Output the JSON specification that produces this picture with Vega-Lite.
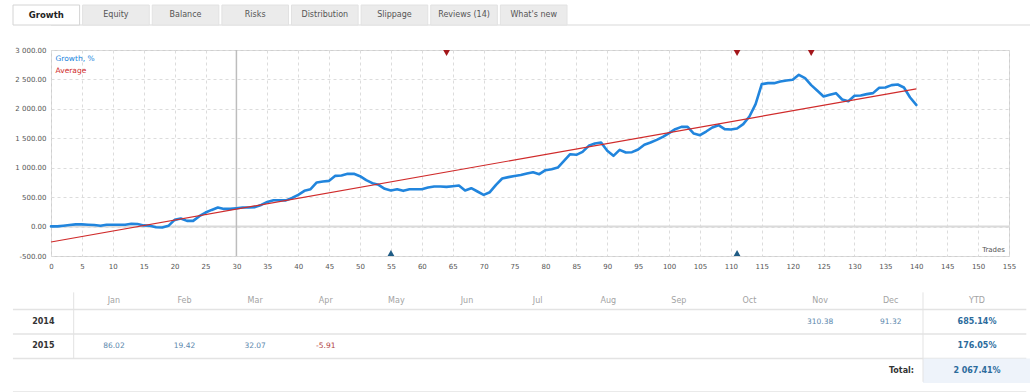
{
  "$schema": "https://vega.github.io/schema/vega-lite/v6.json",
  "padding": 0,
  "autosize": {"type": "pad"},
  "background": "white",
  "spacing": 15,
  "config": {
    "font": "DejaVu Sans",
    "view": {"stroke": null},
    "locale": {"number": {"decimal": ".", "thousands": " ", "grouping": [3], "currency": ["", ""], "minus": "-"}}
  },
  "datasets": {
    "tabs": [{"tab": "Growth"}, {"tab": "Equity"}, {"tab": "Balance"}, {"tab": "Risks"}, {"tab": "Distribution"}, {"tab": "Slippage"}, {"tab": "Reviews (14)"}, {"tab": "What's new"}],
    "growth": [
      {"t": 0, "v": 3}, {"t": 1, "v": 3}, {"t": 2, "v": 15}, {"t": 3, "v": 26}, {"t": 4, "v": 37}, {"t": 5, "v": 37}, {"t": 6, "v": 32}, {"t": 7, "v": 26}, {"t": 8, "v": 15}, {"t": 9, "v": 32},
      {"t": 10, "v": 32}, {"t": 11, "v": 32}, {"t": 12, "v": 32}, {"t": 13, "v": 49}, {"t": 14, "v": 44}, {"t": 15, "v": 20}, {"t": 16, "v": 15}, {"t": 17, "v": -12}, {"t": 18, "v": -17}, {"t": 19, "v": 12},
      {"t": 20, "v": 114}, {"t": 21, "v": 136}, {"t": 22, "v": 97}, {"t": 23, "v": 97}, {"t": 24, "v": 176}, {"t": 25, "v": 238}, {"t": 26, "v": 283}, {"t": 27, "v": 323}, {"t": 28, "v": 300}, {"t": 29, "v": 300},
      {"t": 30, "v": 312}, {"t": 31, "v": 323}, {"t": 32, "v": 323}, {"t": 33, "v": 330}, {"t": 34, "v": 368}, {"t": 35, "v": 419}, {"t": 36, "v": 448}, {"t": 37, "v": 448}, {"t": 38, "v": 445}, {"t": 39, "v": 485},
      {"t": 40, "v": 539}, {"t": 41, "v": 607}, {"t": 42, "v": 635}, {"t": 43, "v": 749}, {"t": 44, "v": 766}, {"t": 45, "v": 777}, {"t": 46, "v": 862}, {"t": 47, "v": 868}, {"t": 48, "v": 896}, {"t": 49, "v": 896},
      {"t": 50, "v": 856}, {"t": 51, "v": 788}, {"t": 52, "v": 737}, {"t": 53, "v": 709}, {"t": 54, "v": 641}, {"t": 55, "v": 613}, {"t": 56, "v": 635}, {"t": 57, "v": 607}, {"t": 58, "v": 635}, {"t": 59, "v": 635},
      {"t": 60, "v": 635}, {"t": 61, "v": 664}, {"t": 62, "v": 681}, {"t": 63, "v": 681}, {"t": 64, "v": 675}, {"t": 65, "v": 686}, {"t": 66, "v": 698}, {"t": 67, "v": 613}, {"t": 68, "v": 652}, {"t": 69, "v": 596},
      {"t": 70, "v": 539}, {"t": 71, "v": 584}, {"t": 72, "v": 709}, {"t": 73, "v": 817}, {"t": 74, "v": 840}, {"t": 75, "v": 860}, {"t": 76, "v": 875}, {"t": 77, "v": 900}, {"t": 78, "v": 924}, {"t": 79, "v": 890},
      {"t": 80, "v": 958}, {"t": 81, "v": 975}, {"t": 82, "v": 1003}, {"t": 83, "v": 1117}, {"t": 84, "v": 1230}, {"t": 85, "v": 1219}, {"t": 86, "v": 1270}, {"t": 87, "v": 1372}, {"t": 88, "v": 1411}, {"t": 89, "v": 1428},
      {"t": 90, "v": 1287}, {"t": 91, "v": 1202}, {"t": 92, "v": 1304}, {"t": 93, "v": 1258}, {"t": 94, "v": 1264}, {"t": 95, "v": 1309}, {"t": 96, "v": 1389}, {"t": 97, "v": 1428}, {"t": 98, "v": 1473}, {"t": 99, "v": 1524},
      {"t": 100, "v": 1587}, {"t": 101, "v": 1655}, {"t": 102, "v": 1694}, {"t": 103, "v": 1694}, {"t": 104, "v": 1581}, {"t": 105, "v": 1553}, {"t": 106, "v": 1615}, {"t": 107, "v": 1683}, {"t": 108, "v": 1723}, {"t": 109, "v": 1655},
      {"t": 110, "v": 1649}, {"t": 111, "v": 1666}, {"t": 112, "v": 1740}, {"t": 113, "v": 1870}, {"t": 114, "v": 2080}, {"t": 115, "v": 2420}, {"t": 116, "v": 2437}, {"t": 117, "v": 2437}, {"t": 118, "v": 2465}, {"t": 119, "v": 2482},
      {"t": 120, "v": 2494}, {"t": 121, "v": 2579}, {"t": 122, "v": 2522}, {"t": 123, "v": 2403}, {"t": 124, "v": 2307}, {"t": 125, "v": 2210}, {"t": 126, "v": 2239}, {"t": 127, "v": 2267}, {"t": 128, "v": 2159}, {"t": 129, "v": 2131},
      {"t": 130, "v": 2222}, {"t": 131, "v": 2227}, {"t": 132, "v": 2250}, {"t": 133, "v": 2267}, {"t": 134, "v": 2358}, {"t": 135, "v": 2363}, {"t": 136, "v": 2403}, {"t": 137, "v": 2414}, {"t": 138, "v": 2363}, {"t": 139, "v": 2193},
      {"t": 140, "v": 2067}
    ],
    "avg": [{"t": 0, "v": -262}, {"t": 140, "v": 2340}],
    "marksTop": [{"t": 64}, {"t": 111}, {"t": 123}],
    "marksBottom": [{"t": 55}, {"t": 111}],
    "months": [{"col": "Jan"}, {"col": "Feb"}, {"col": "Mar"}, {"col": "Apr"}, {"col": "May"}, {"col": "Jun"}, {"col": "Jul"}, {"col": "Aug"}, {"col": "Sep"}, {"col": "Oct"}, {"col": "Nov"}, {"col": "Dec"}],
    "years": [{"year": "2014"}, {"year": "2015"}],
    "cells": [
      {"year": "2014", "col": "Nov", "v": 310.38},
      {"year": "2014", "col": "Dec", "v": 91.32},
      {"year": "2015", "col": "Jan", "v": 86.02},
      {"year": "2015", "col": "Feb", "v": 19.42},
      {"year": "2015", "col": "Mar", "v": 32.07},
      {"year": "2015", "col": "Apr", "v": -5.91}
    ],
    "ytd": [{"year": "2014", "ytd": "685.14%"}, {"year": "2015", "ytd": "176.05%"}, {"year": "total", "ytd": "2 067.41%"}],
    "dividers": [{"after": "head"}, {"after": "2014"}, {"after": "2015"}]
  },
  "vconcat": [
    {
      "width": 980,
      "height": 30,
      "data": {"name": "tabs"},
      "layer": [
        {
          "data": {"values": [{}]},
          "mark": {"type": "rule", "color": "#d9d9d9", "strokeWidth": 1},
          "encoding": {"y": {"datum": 0, "type": "quantitative", "axis": null, "scale": {"domain": [-0.25, 1.25], "nice": false, "zero": false}}}
        },
        {
          "mark": {"type": "bar", "strokeWidth": 1},
          "encoding": {
            "x": {"field": "tab", "type": "nominal", "axis": null,
              "scale": {"type": "band", "domain": ["Growth", "Equity", "Balance", "Risks", "Distribution", "Slippage", "Reviews (14)", "What's new"], "range": [-38, 516], "paddingInner": 0.0431, "paddingOuter": 0}},
            "y": {"datum": 0, "type": "quantitative"},
            "y2": {"datum": 1},
            "fill": {"condition": {"test": "datum.tab === 'Growth'", "value": "#ffffff"}, "value": "#ebebeb"},
            "stroke": {"condition": {"test": "datum.tab === 'Growth'", "value": "#d4d4d4"}, "value": "#e2e2e2"}
          }
        },
        {
          "transform": [{"filter": "datum.tab === 'Growth'"}],
          "mark": {"type": "text", "fontSize": 8.5, "fontWeight": "bold", "color": "#222222", "baseline": "middle"},
          "encoding": {
            "x": {"field": "tab", "type": "nominal"},
            "y": {"datum": 0.5, "type": "quantitative"},
            "text": {"field": "tab"}
          }
        },
        {
          "transform": [{"filter": "datum.tab !== 'Growth'"}],
          "mark": {"type": "text", "fontSize": 8, "color": "#555555", "baseline": "middle"},
          "encoding": {
            "x": {"field": "tab", "type": "nominal"},
            "y": {"datum": 0.5, "type": "quantitative"},
            "text": {"field": "tab"}
          }
        }
      ]
    },
    {
      "width": 958,
      "height": 206,
      "view": {"stroke": "#cfcfcf"},
      "layer": [
        {
          "data": {"values": [{}]},
          "mark": {"type": "rule", "color": "#dadada", "strokeWidth": 2},
          "encoding": {"y": {"datum": 0, "type": "quantitative"}}
        },
        {
          "data": {"values": [{}]},
          "mark": {"type": "rule", "color": "#bdbdbd", "strokeWidth": 1.5},
          "encoding": {"x": {"datum": 30, "type": "quantitative"}}
        },
        {
          "data": {"name": "growth"},
          "mark": {"type": "line", "strokeWidth": 2.6, "strokeJoin": "round", "strokeCap": "round"},
          "encoding": {
            "x": {"field": "t", "type": "quantitative",
              "scale": {"domain": [0, 155], "nice": false, "zero": false},
              "axis": {"title": null, "tickCount": 31, "grid": true, "gridDash": [3, 3], "gridColor": "#dcdcdc", "domain": false, "ticks": false, "labelPadding": 6, "labelFontSize": 7, "labelColor": "#555555", "labelFlush": false, "labelOverlap": false}},
            "y": {"field": "v", "type": "quantitative",
              "scale": {"domain": [-500, 3000], "nice": false, "zero": false},
              "axis": {"title": null, "tickCount": 7, "format": ",.2f", "grid": true, "gridDash": [3, 3], "gridColor": "#dcdcdc", "domain": false, "ticks": false, "labelPadding": 5, "labelFontSize": 7, "labelColor": "#555555", "minExtent": 50, "maxExtent": 50, "labelFlush": false, "labelOverlap": false}},
            "color": {"datum": "Growth, %", "type": "nominal",
              "scale": {"domain": ["Growth, %", "Average"], "range": ["#2185dd", "#d02b2b"]},
              "legend": {"orient": "top-left", "offset": 5, "padding": 0, "title": null, "symbolSize": 0, "symbolStrokeWidth": 0, "symbolOpacity": 0, "labelFontSize": 7.5, "labelOffset": -8, "rowPadding": 3, "labelLimit": 200,
                "encode": {"labels": {"update": {"fill": {"signal": "datum.value === 'Average' ? '#d02b2b' : '#2185dd'"}}}}}}
          }
        },
        {
          "data": {"name": "avg"},
          "mark": {"type": "line", "strokeWidth": 1.2},
          "encoding": {
            "x": {"field": "t", "type": "quantitative"},
            "y": {"field": "v", "type": "quantitative"},
            "color": {"datum": "Average", "type": "nominal"}
          }
        },
        {
          "data": {"name": "marksTop"},
          "mark": {"type": "point", "shape": "triangle-down", "filled": true, "size": 45, "yOffset": 3, "color": "#a3161a", "opacity": 1},
          "encoding": {
            "x": {"field": "t", "type": "quantitative"},
            "y": {"datum": 3000, "type": "quantitative"}
          }
        },
        {
          "data": {"name": "marksBottom"},
          "mark": {"type": "point", "shape": "triangle-up", "filled": true, "size": 45, "yOffset": -3, "color": "#1f5c85", "opacity": 1},
          "encoding": {
            "x": {"field": "t", "type": "quantitative"},
            "y": {"datum": -500, "type": "quantitative"}
          }
        },
        {
          "data": {"values": [{"label": "Trades"}]},
          "mark": {"type": "text", "align": "right", "baseline": "bottom", "dx": -4, "dy": -3, "fontSize": 7, "color": "#555555"},
          "encoding": {
            "x": {"datum": 155, "type": "quantitative"},
            "y": {"datum": -500, "type": "quantitative"},
            "text": {"field": "label"}
          }
        }
      ]
    },
    {
      "width": 980,
      "height": 98,
      "resolve": {"scale": {"x": "independent"}},
      "layer": [
        {
          "layer": [
            {
              "data": {"name": "dividers"},
              "mark": {"type": "rule", "color": "#e3e3e3", "strokeWidth": 1.5},
              "encoding": {
                "x": {"datum": "Year", "type": "nominal", "bandPosition": 0.07, "axis": null,
                  "scale": {"type": "band", "domain": ["Year", "Jan", "Feb", "Mar", "Apr", "May", "Jun", "Jul", "Aug", "Sep", "Oct", "Nov", "Dec"], "range": [-43, 875], "paddingInner": 0, "paddingOuter": 0}},
                "x2": {"datum": "Dec", "bandPosition": 2.42},
                "y": {"field": "after", "type": "nominal", "bandPosition": 1, "axis": null,
                  "scale": {"type": "band", "domain": ["head", "2014", "2015", "total"], "paddingInner": 0, "paddingOuter": 0}}
              }
            },
            {
              "data": {"values": [{"after": "total"}]},
              "mark": {"type": "rule", "color": "#e3e3e3", "strokeWidth": 1.5},
              "encoding": {
                "x": {"datum": "Year", "type": "nominal", "bandPosition": 0.07},
                "x2": {"datum": "Dec", "bandPosition": 2.42},
                "y": {"field": "after", "type": "nominal", "bandPosition": 1.37}
              }
            },
            {
              "data": {"values": [{}]},
              "mark": {"type": "rule", "color": "#e3e3e3", "strokeWidth": 1},
              "encoding": {
                "x": {"datum": "Jan", "type": "nominal", "bandPosition": -0.07},
                "y": {"datum": "head", "type": "nominal", "bandPosition": 0.3},
                "y2": {"datum": "2015", "bandPosition": 1}
              }
            },
            {
              "data": {"name": "months"},
              "mark": {"type": "text", "fontSize": 8, "color": "#a3a3a3", "baseline": "middle", "dy": 4},
              "encoding": {
                "x": {"field": "col", "type": "nominal"},
                "y": {"datum": "head", "type": "nominal"},
                "text": {"field": "col"}
              }
            },
            {
              "data": {"name": "years"},
              "mark": {"type": "text", "fontSize": 8, "fontWeight": "bold", "color": "#333333", "baseline": "middle"},
              "encoding": {
                "x": {"datum": "Year", "type": "nominal"},
                "y": {"field": "year", "type": "nominal"},
                "text": {"field": "year"}
              }
            },
            {
              "data": {"name": "cells"},
              "mark": {"type": "text", "fontSize": 7.5, "baseline": "middle"},
              "encoding": {
                "x": {"field": "col", "type": "nominal"},
                "y": {"field": "year", "type": "nominal"},
                "text": {"field": "v", "type": "quantitative", "format": ".2f"},
                "color": {"field": "v", "type": "quantitative", "legend": null,
                  "scale": {"type": "threshold", "domain": [0], "range": ["#b0413e", "#5b87ad"]}}
              }
            }
          ]
        },
        {
          "layer": [
            {
              "data": {"values": [{}]},
              "mark": {"type": "bar", "color": "#eef3fa"},
              "encoding": {
                "x": {"datum": "YTD", "type": "nominal", "axis": null,
                  "scale": {"type": "band", "domain": ["YTD"], "range": [872, 980], "paddingInner": 0, "paddingOuter": 0}},
                "y": {"datum": "total", "type": "nominal"}
              }
            },
            {
              "data": {"values": [{}]},
              "mark": {"type": "rule", "color": "#e3e3e3", "strokeWidth": 1},
              "encoding": {
                "x": {"datum": "YTD", "type": "nominal", "bandPosition": 0},
                "y": {"datum": "head", "type": "nominal", "bandPosition": 0.3},
                "y2": {"datum": "total", "bandPosition": 0.95}
              }
            },
            {
              "data": {"values": [{"label": "YTD"}]},
              "mark": {"type": "text", "fontSize": 8, "color": "#a3a3a3", "baseline": "middle", "dy": 4},
              "encoding": {
                "x": {"datum": "YTD", "type": "nominal"},
                "y": {"datum": "head", "type": "nominal"},
                "text": {"field": "label"}
              }
            },
            {
              "data": {"name": "ytd"},
              "mark": {"type": "text", "fontSize": 8, "fontWeight": "bold", "color": "#2c6b9c", "baseline": "middle"},
              "encoding": {
                "x": {"datum": "YTD", "type": "nominal"},
                "y": {"field": "year", "type": "nominal"},
                "text": {"field": "ytd"}
              }
            },
            {
              "data": {"values": [{"label": "Total:"}]},
              "mark": {"type": "text", "fontSize": 8, "fontWeight": "bold", "color": "#333333", "baseline": "middle", "align": "right", "dx": -9},
              "encoding": {
                "x": {"datum": "YTD", "type": "nominal", "bandPosition": 0},
                "y": {"datum": "total", "type": "nominal"},
                "text": {"field": "label"}
              }
            }
          ]
        }
      ]
    }
  ]
}
